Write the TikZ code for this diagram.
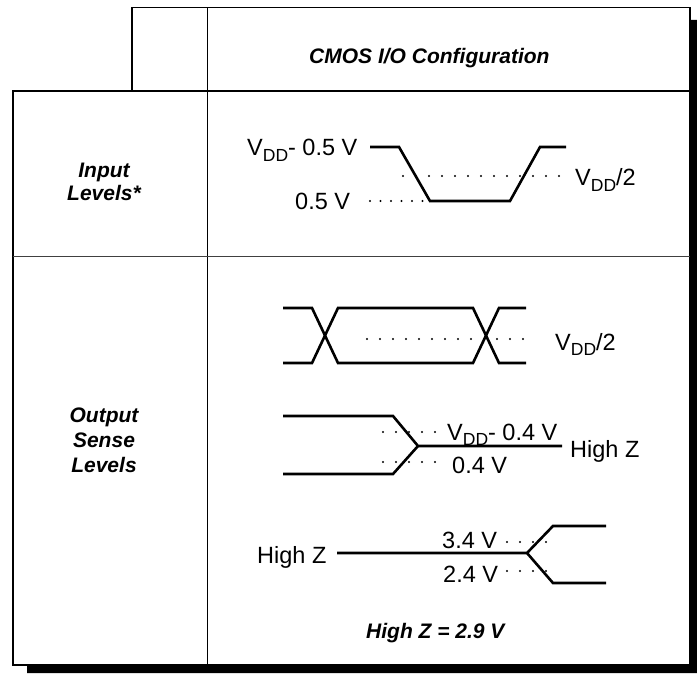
\documentclass[tikz,border=0pt]{standalone}
\usepackage{fontspec}
\setmainfont{Liberation Sans}
\newcommand\regfont{\fontsize{23.5}{27}\selectfont}
\newcommand\bldfont{\fontsize{21}{24}\selectfont\bfseries\itshape}
\newcommand\vdd{V\raisebox{-5.5pt}{\fontsize{17.5}{17.5}\selectfont DD}}
\begin{document}
\begin{tikzpicture}[x=1pt,y=-1pt,
  wave/.style={line width=2.6pt},
  dots/.style={line width=2.3pt,line cap=round,dash pattern=on 0pt off 13pt},
  lbl/.style={font=\regfont,inner sep=0pt,anchor=base west},
  hdr/.style={font=\bldfont,inner sep=0pt,anchor=base},
  frame/.style={line width=1.5pt}]
\useasboundingbox (0,0) rectangle (697,674);
\fill[white] (0,0) rectangle (697,674);
% drop shadow
\fill[black] (690,20) -- (697,20) -- (697,673) -- (27,673) -- (27,665) -- (690,665) -- cycle;
% table frame
\draw[frame] (132,7.5) rectangle (690,91);
\draw[frame] (13,91) rectangle (690,665);
\draw[line width=1pt] (207,7.5) -- (207,665);
\draw[line width=2.5pt] (132,91) -- (690,91);
\draw[line width=1pt,black!75] (13,257) -- (690,257);
% headings
\node[hdr,anchor=base west] (cmos) at (309,64) {CMOS I/O Configuration};
\node[hdr] (in1) at (104,178) {Input};
\node[hdr] (in2) at (104,201) {Levels*};
\node[hdr] (out1) at (104,422) {Output};
\node[hdr] (out2) at (104,447) {Sense};
\node[hdr] (out3) at (104,472) {Levels};
\node[hdr,anchor=base west] (hz) at (366,638) {High Z = 2.9 V};
% input levels
\draw[wave] (370,147) -- (399,147) -- (430,201) -- (510,201) -- (540,147) -- (566,147);
\draw[dots] (403,176) -- (566,176);
\draw[dots,dash pattern=on 0pt off 10.5pt] (370,201) -- (428,201);
\node[lbl] (vih) at (247,156) {\vdd- 0.5 V};
\node[lbl] (vil) at (295,210) {0.5 V};
\node[lbl] (vhalf1) at (575,186) {\vdd/2};
% output eye
\draw[wave] (283,308) -- (312,308) -- (338,363) -- (473,363) -- (499,308) -- (526,308);
\draw[wave] (283,363) -- (312,363) -- (338,308) -- (473,308) -- (499,363) -- (526,363);
\draw[dots] (367,339) -- (528,339);
\node[lbl] (vhalf2) at (555,350) {\vdd/2};
% output to high Z
\draw[wave] (283,416) -- (393,416) -- (418,446) -- (562,446);
\draw[wave] (283,474) -- (393,474) -- (418,446);
\draw[dots] (383,432) -- (440,432);
\draw[dots] (383,462) -- (440,462);
\node[lbl] (voh) at (447,440) {\vdd- 0.4 V};
\node[lbl] (hz1) at (570,457) {High Z};
\node[lbl] (vol) at (452,473) {0.4 V};
% high Z to output
\draw[wave] (337,553) -- (527,553) -- (553,526) -- (606,526);
\draw[wave] (527,553) -- (553,583) -- (606,583);
\draw[dots] (507,542) -- (547,542);
\draw[dots] (507,571) -- (547,571);
\node[lbl] (hz2) at (257,563) {High Z};
\node[lbl] (v34) at (442,548) {3.4 V};
\node[lbl] (v24) at (443,582) {2.4 V};
\end{tikzpicture}
\end{document}
